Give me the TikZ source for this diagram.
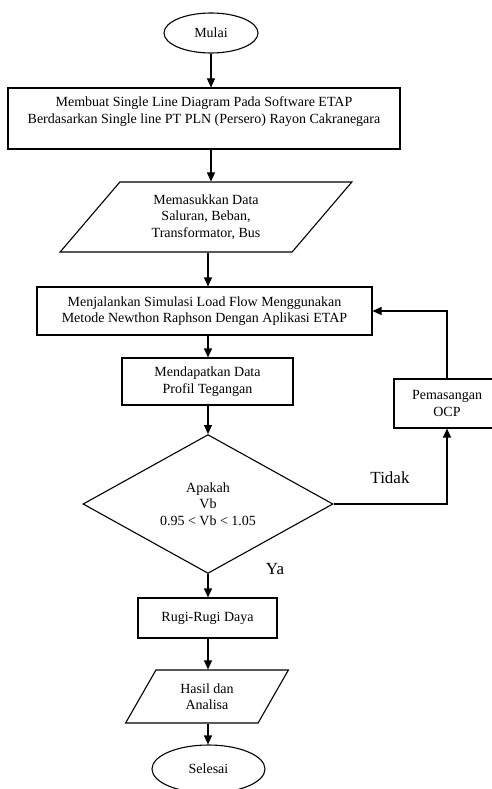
\documentclass[tikz,border=0pt]{standalone}
\usepackage{fontspec}
\setmainfont{Liberation Serif}
\usetikzlibrary{shapes.geometric,arrows.meta}
\begin{document}
\begin{tikzpicture}[x=1pt,y=-1pt,
  every node/.style={font=\fontsize{14}{16.5}\selectfont, align=center, inner sep=0pt, line width=1.1pt},
  boxst/.style={draw, rectangle},
  termst/.style={draw, ellipse},
  iost/.style={draw, trapezium, trapezium stretches=true},
  decst/.style={draw, diamond},
  lbl/.style={font=\fontsize{17}{19}\selectfont},
  flow/.style={line width=1.1pt, -{Triangle[length=9pt,width=8pt]}},
  conn/.style={line width=1.1pt}
]
\fill[white] (0,0) rectangle (491,789);
\useasboundingbox (0,0) rectangle (491,789);

\node[termst, minimum width=94, minimum height=40] (mulai) at (211,33) {Mulai};
\node[boxst, minimum width=392, minimum height=61] (box1) at (204,118.5)
  {Membuat Single Line Diagram Pada Software ETAP\\Berdasarkan Single line PT PLN (Persero) Rayon Cakranegara\\\mbox{}};
\node[iost, trapezium left angle=50, trapezium right angle=130, minimum width=292, minimum height=70] (data) at (206,217)
  {Memasukkan Data\\Saluran, Beban,\\Transformator, Bus};
\node[boxst, minimum width=335, minimum height=48] (sim) at (204.5,311)
  {Menjalankan Simulasi Load Flow Menggunakan\\Metode Newthon Raphson Dengan Aplikasi ETAP};
\node[boxst, minimum width=171, minimum height=47] (prof) at (207.5,381.5)
  {Mendapatkan Data\\Profil Tegangan};
\node[decst, minimum width=250, minimum height=138] (dec) at (208,504)
  {Apakah\\Vb\\0.95 < Vb < 1.05};
\node[boxst, minimum width=106, minimum height=49] (ocp) at (447,403.5)
  {Pemasangan\\OCP};
\node[boxst, minimum width=139, minimum height=40] (rugi) at (207.5,618)
  {Rugi-Rugi Daya};
\node[iost, trapezium left angle=59, trapezium right angle=121, minimum width=164, minimum height=53] (hasil) at (207,696.5)
  {Hasil dan\\Analisa};
\node[termst, minimum width=113, minimum height=48] (selesai) at (208.5,769)
  {Selesai};

\node[lbl] (tidak) at (390,478) {Tidak};
\node[lbl] (ya) at (275,569) {Ya};

\draw[flow] (mulai.south) -- (mulai.south |- box1.north);
\draw[flow] (box1.south -| mulai) -- (data.north -| mulai);
\draw[flow] (data.south -| dec.north) -- (sim.north -| dec.north);
\draw[flow] (sim.south -| dec.north) -- (prof.north -| dec.north);
\draw[flow] (prof.south -| dec.north) -- (dec.north);
\draw[flow] (dec.south) -- (rugi.north -| dec.south);
\draw[flow] (rugi.south -| dec.south) -- (hasil.north -| dec.south);
\draw[flow] (hasil.south -| dec.south) -- (selesai.north -| dec.south);
\draw[flow] (dec.east) -| (ocp.south);
\draw[flow] (ocp.north) |- (sim.east);
\end{tikzpicture}
\end{document}
